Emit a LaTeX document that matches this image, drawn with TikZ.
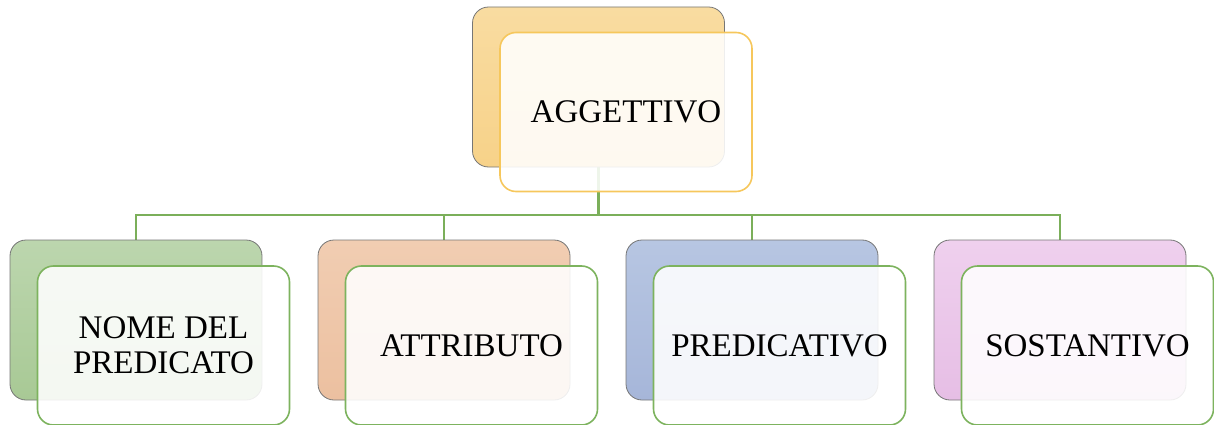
\documentclass[tikz,border=0pt]{standalone}
\usepackage{fontspec}
\setmainfont{Liberation Serif}
\definecolor{linkgreen}{HTML}{7BAF5A}
\definecolor{frameyellow}{HTML}{F6C75C}
\definecolor{framegreen}{HTML}{7DB35E}
\definecolor{backedge}{HTML}{767676}
\definecolor{orgT}{HTML}{F9DCA1}\definecolor{orgB}{HTML}{F7D289}
\definecolor{grnT}{HTML}{BCD6AE}\definecolor{grnB}{HTML}{A8C995}
\definecolor{salT}{HTML}{F1CDB2}\definecolor{salB}{HTML}{ECC0A0}
\definecolor{bluT}{HTML}{B7C6E2}\definecolor{bluB}{HTML}{A6B6D9}
\definecolor{pnkT}{HTML}{EFD0EE}\definecolor{pnkB}{HTML}{E6BEE5}
\pgfdeclarelayer{bg}
\pgfsetlayers{bg,main}
\begin{document}
\begin{tikzpicture}[x=1pt,y=-1pt,
  back/.style={draw=backedge, line width=0.8pt, rounded corners=16pt,
    minimum width=252pt, minimum height=160pt, inner sep=0pt},
  front/.style={line width=1.6pt, rounded corners=16pt,
    minimum width=252pt, minimum height=159pt, inner sep=0pt,
    fill=white, fill opacity=0.88, text opacity=1, align=center,
    font=\fontsize{33}{35}\selectfont},
  conn/.style={draw=linkgreen, line width=2.8pt}]
\useasboundingbox (0,0) rectangle (1214,425);
% top
\node[back, top color=orgT, bottom color=orgB] (tb) at (598.5,87) {};
\node[front, draw=frameyellow] (tf) at (626,112) {AGGETTIVO};
% bottom row
\node[back, top color=grnT, bottom color=grnB] (b1) at (136,320) {};
\node[front, draw=framegreen] (f1) at (163.5,345.5) {NOME DEL\\PREDICATO};
\node[back, top color=salT, bottom color=salB] (b2) at (444,320) {};
\node[front, draw=framegreen] (f2) at (471.5,345.5) {ATTRIBUTO};
\node[back, top color=bluT, bottom color=bluB] (b3) at (752,320) {};
\node[front, draw=framegreen] (f3) at (779.5,345.5) {PREDICATIVO};
\node[back, top color=pnkT, bottom color=pnkB] (b4) at (1060,320) {};
\node[front, draw=framegreen] (f4) at (1087.5,345.5) {SOSTANTIVO};
\coordinate (hub) at (598.5,215);
\begin{pgfonlayer}{bg}
\draw[conn] (tb.south) -- (hub);
\draw[conn] (hub) -| (b1.north);
\draw[conn] (hub) -| (b2.north);
\draw[conn] (hub) -| (b3.north);
\draw[conn] (hub) -| (b4.north);
\end{pgfonlayer}
\end{tikzpicture}
\end{document}
